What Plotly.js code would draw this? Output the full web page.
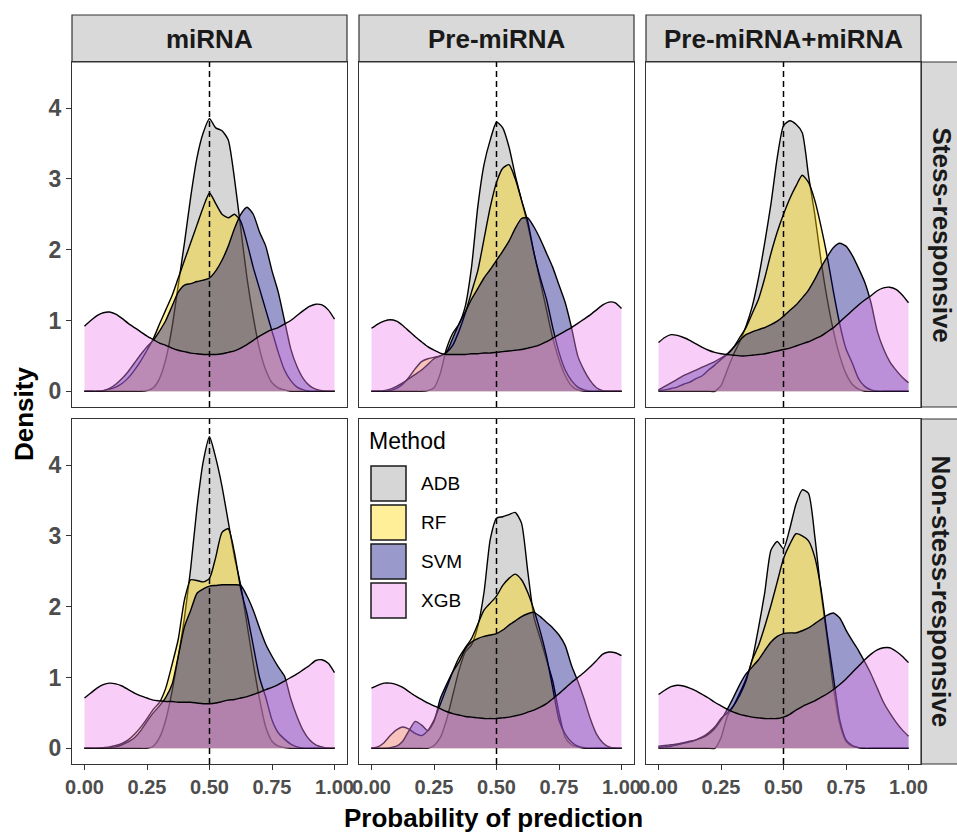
<!DOCTYPE html>
<html><head><meta charset="utf-8">
<script src="https://cdn.plot.ly/plotly-3.0.1.min.js"></script>
<style>html,body{margin:0;padding:0;background:#fff}</style>
</head><body><div id="chart" style="width:957px;height:835px"></div>
<script>
// ---------- data ----------
const probGrid = [0,0.025,0.05,0.075,0.1,0.125,0.15,0.175,0.2,0.225,0.25,0.275,0.3,0.325,0.35,0.375,0.4,0.425,0.45,0.475,0.5,0.525,0.55,0.575,0.6,0.625,0.65,0.675,0.7,0.725,0.75,0.775,0.8,0.825,0.85,0.875,0.9,0.925,0.95,0.975,1];
const methods = ['ADB','RF','SVM','XGB'];
const featureSets = ['miRNA','Pre-miRNA','Pre-miRNA+miRNA'];
const classes = ['Stess-responsive','Non-stess-responsive'];
const xTickVals = [0,0.25,0.5,0.75,1];
const xTickText = ['0.00','0.25','0.50','0.75','1.00'];
const yTickVals = [0,1,2,3,4];
const cutoff = 0.5;

// miRNA / Stess-responsive
const adb_miRNA_S = [0,0,0,0,0,0,0,0,0,0,0.01,0.05,0.18,0.45,0.9,1.5,2.1,2.75,3.3,3.65,3.85,3.72,3.68,3.55,3.0,2.3,1.6,1.05,0.6,0.3,0.12,0.05,0.02,0,0,0,0,0,0,0,0];
const rf_miRNA_S  = [0,0,0,0.01,0.03,0.06,0.11,0.19,0.3,0.43,0.58,0.74,0.95,1.15,1.35,1.6,1.85,2.1,2.35,2.6,2.8,2.65,2.5,2.45,2.5,2.4,2.1,1.75,1.45,1.15,0.85,0.55,0.3,0.15,0.06,0.02,0,0,0,0,0];
const svm_miRNA_S = [0,0,0,0.01,0.04,0.1,0.18,0.28,0.4,0.52,0.63,0.72,0.85,1.0,1.2,1.4,1.5,1.52,1.55,1.57,1.6,1.7,1.85,2.05,2.3,2.5,2.6,2.5,2.25,2.05,1.7,1.4,1.0,0.6,0.35,0.18,0.08,0.03,0.01,0,0];
const xgb_miRNA_S = [0.92,1.0,1.07,1.11,1.12,1.09,1.03,0.96,0.9,0.84,0.78,0.73,0.68,0.65,0.61,0.58,0.56,0.54,0.53,0.52,0.52,0.52,0.53,0.55,0.57,0.61,0.66,0.72,0.78,0.83,0.87,0.9,0.95,1.0,1.07,1.14,1.2,1.23,1.22,1.15,1.02];

// Pre-miRNA / Stess-responsive
const adb_pre_S = [0,0,0,0,0,0,0,0,0,0.01,0.05,0.25,0.6,0.82,0.95,1.2,1.75,2.6,3.2,3.55,3.8,3.72,3.45,3.05,2.7,2.35,1.95,1.55,1.15,0.75,0.45,0.22,0.08,0.02,0,0,0,0,0,0,0];
const rf_pre_S  = [0,0,0,0.01,0.04,0.1,0.2,0.32,0.42,0.46,0.48,0.5,0.55,0.65,0.85,1.1,1.4,1.7,2.15,2.6,2.95,3.15,3.2,3.0,2.7,2.4,1.95,1.6,1.3,0.9,0.55,0.3,0.15,0.06,0.02,0,0,0,0,0,0];
const svm_pre_S = [0,0,0.01,0.03,0.07,0.12,0.18,0.24,0.3,0.38,0.46,0.5,0.55,0.75,0.95,1.12,1.3,1.45,1.6,1.72,1.85,1.98,2.12,2.3,2.44,2.45,2.32,2.15,1.95,1.75,1.5,1.25,0.9,0.5,0.3,0.15,0.05,0.01,0,0,0];
const xgb_pre_S = [0.89,0.95,0.99,1.01,0.99,0.93,0.85,0.77,0.7,0.63,0.58,0.54,0.52,0.52,0.52,0.52,0.53,0.53,0.54,0.54,0.55,0.56,0.57,0.58,0.59,0.61,0.63,0.66,0.7,0.75,0.8,0.85,0.9,0.96,1.02,1.08,1.15,1.22,1.26,1.25,1.17];

// Pre-miRNA+miRNA / Stess-responsive
const adb_both_S = [0,0,0,0,0,0,0,0,0,0,0.08,0.3,0.52,0.7,0.92,1.2,1.6,2.1,2.65,3.3,3.75,3.82,3.77,3.65,3.05,2.5,1.85,1.3,0.85,0.5,0.25,0.1,0.03,0,0,0,0,0,0,0,0];
const rf_both_S  = [0.01,0.02,0.04,0.06,0.1,0.13,0.18,0.22,0.3,0.37,0.45,0.52,0.62,0.76,0.9,1.1,1.3,1.6,1.95,2.25,2.5,2.72,2.9,3.05,2.95,2.7,2.33,1.9,1.4,0.95,0.6,0.4,0.18,0.07,0.02,0,0,0,0,0,0];
const svm_both_S = [0.02,0.07,0.12,0.17,0.22,0.26,0.3,0.34,0.38,0.42,0.47,0.53,0.62,0.72,0.8,0.84,0.87,0.9,0.94,0.99,1.06,1.14,1.22,1.32,1.43,1.58,1.75,1.9,2.03,2.09,2.05,1.92,1.74,1.54,1.25,0.85,0.6,0.42,0.3,0.2,0.12];
const xgb_both_S = [0.69,0.76,0.8,0.79,0.76,0.72,0.67,0.62,0.58,0.55,0.53,0.52,0.51,0.5,0.5,0.51,0.52,0.53,0.55,0.57,0.59,0.61,0.64,0.67,0.7,0.74,0.78,0.84,0.9,0.98,1.06,1.14,1.22,1.29,1.35,1.42,1.46,1.47,1.44,1.36,1.25];

// miRNA / Non-stess-responsive
const adb_miRNA_N = [0,0,0,0,0,0,0,0,0,0,0,0.03,0.15,0.4,0.8,1.3,1.85,2.55,3.4,4.05,4.4,4.1,3.7,3.2,2.7,2.3,1.75,1.2,0.7,0.3,0.1,0.03,0.01,0,0,0,0,0,0,0,0];
const rf_miRNA_N  = [0,0,0,0.01,0.02,0.04,0.07,0.12,0.2,0.3,0.42,0.55,0.65,0.85,1.18,1.54,2.1,2.38,2.37,2.35,2.4,2.7,3.05,3.1,2.76,2.25,1.9,1.45,1.0,0.72,0.4,0.22,0.13,0.06,0.02,0,0,0,0,0,0];
const svm_miRNA_N = [0,0,0,0,0.01,0.02,0.05,0.09,0.15,0.25,0.38,0.5,0.6,0.72,0.9,1.3,1.72,1.95,2.19,2.25,2.29,2.3,2.31,2.31,2.31,2.3,2.15,1.95,1.7,1.47,1.3,1.15,1.02,0.7,0.45,0.25,0.12,0.05,0.02,0,0];
const xgb_miRNA_N = [0.71,0.78,0.85,0.9,0.92,0.91,0.88,0.83,0.78,0.74,0.71,0.68,0.67,0.66,0.66,0.65,0.65,0.65,0.64,0.63,0.63,0.64,0.66,0.68,0.69,0.71,0.73,0.76,0.79,0.83,0.86,0.9,0.95,1.0,1.05,1.11,1.17,1.24,1.25,1.2,1.07];

// Pre-miRNA / Non-stess-responsive
const adb_pre_N = [0,0,0,0,0,0,0,0,0,0,0.04,0.15,0.4,0.75,1.1,1.36,1.46,1.72,2.2,2.95,3.25,3.27,3.3,3.33,3.18,2.5,1.85,1.55,1.25,0.95,0.5,0.15,0.05,0.02,0,0,0,0,0,0,0];
const rf_pre_N  = [0,0.02,0.08,0.18,0.26,0.3,0.27,0.21,0.18,0.25,0.4,0.62,0.85,1.08,1.28,1.42,1.55,1.75,1.95,2.05,2.15,2.3,2.4,2.46,2.38,2.2,1.95,1.65,1.3,0.85,0.4,0.2,0.09,0.03,0.01,0,0,0,0,0,0];
const svm_pre_N = [0,0,0,0.01,0.03,0.1,0.25,0.38,0.33,0.25,0.38,0.7,0.9,1.08,1.22,1.4,1.5,1.55,1.58,1.6,1.62,1.67,1.74,1.8,1.86,1.9,1.92,1.86,1.78,1.7,1.6,1.45,1.17,0.95,0.7,0.42,0.2,0.08,0.02,0,0];
const xgb_pre_N = [0.85,0.89,0.92,0.92,0.9,0.86,0.8,0.74,0.69,0.64,0.6,0.56,0.52,0.49,0.47,0.45,0.44,0.43,0.42,0.42,0.42,0.43,0.44,0.46,0.48,0.51,0.54,0.58,0.63,0.7,0.77,0.85,0.93,1.0,1.07,1.15,1.24,1.33,1.36,1.35,1.31];

// Pre-miRNA+miRNA / Non-stess-responsive
const adb_both_N = [0,0,0,0,0,0,0,0,0,0,0.15,0.45,0.6,0.78,0.98,1.25,1.7,2.2,2.8,2.92,2.82,3.1,3.45,3.65,3.6,3.0,2.2,1.55,0.85,0.35,0.1,0.03,0.01,0,0,0,0,0,0,0,0];
const rf_both_N  = [0.01,0.02,0.03,0.05,0.07,0.09,0.12,0.16,0.22,0.3,0.42,0.5,0.6,0.75,0.95,1.25,1.45,1.72,2.02,2.35,2.68,2.88,3.03,3.0,2.93,2.7,2.25,1.6,1.0,0.4,0.12,0.04,0.01,0,0,0,0,0,0,0,0];
const svm_both_N = [0.03,0.04,0.05,0.06,0.08,0.1,0.12,0.15,0.2,0.28,0.4,0.55,0.72,0.9,1.05,1.15,1.25,1.38,1.5,1.58,1.62,1.63,1.63,1.66,1.7,1.76,1.82,1.88,1.91,1.84,1.67,1.52,1.38,1.22,1.05,0.85,0.65,0.5,0.37,0.26,0.17];
const xgb_both_N = [0.76,0.82,0.87,0.89,0.88,0.85,0.81,0.76,0.71,0.65,0.6,0.55,0.51,0.48,0.46,0.44,0.43,0.42,0.42,0.42,0.44,0.48,0.54,0.59,0.63,0.67,0.72,0.77,0.83,0.9,0.98,1.07,1.16,1.25,1.33,1.39,1.42,1.42,1.37,1.3,1.21];

// panels in reading order (row = class, column = feature set)
const panelSeries = [
  [adb_miRNA_S, rf_miRNA_S, svm_miRNA_S, xgb_miRNA_S],
  [adb_pre_S, rf_pre_S, svm_pre_S, xgb_pre_S],
  [adb_both_S, rf_both_S, svm_both_S, xgb_both_S],
  [adb_miRNA_N, rf_miRNA_N, svm_miRNA_N, xgb_miRNA_N],
  [adb_pre_N, rf_pre_N, svm_pre_N, xgb_pre_N],
  [adb_both_N, rf_both_N, svm_both_N, xgb_both_N]
];

// ---------- styling ----------
const fillColors = ['rgba(153,153,153,0.4)','rgba(255,215,0,0.4)','rgba(0,0,128,0.4)','rgba(238,130,238,0.4)'];
const W = 957, H = 835;
const colPx = [[72,347],[359,634],[646,921]];
const rowPx = [[62,407],[419,764]];
const px2x = p => p / W;
const py2y = p => 1 - p / H;
const FONT = 'Liberation Sans, Arial, Helvetica, sans-serif';

const traces = [];
const layout = {
  width: W, height: H,
  margin: {l:0, r:0, t:0, b:0},
  paper_bgcolor: '#ffffff', plot_bgcolor: '#ffffff',
  showlegend: false,
  shapes: [], annotations: []
};

for (let r = 0; r < 2; r++) {
  for (let c = 0; c < 3; c++) {
    const k = r * 3 + c;
    const id = k === 0 ? '' : String(k + 1);
    const xa = 'x' + id, ya = 'y' + id;
    panelSeries[k].forEach((vals, m) => {
      traces.push({
        type: 'scatter', mode: 'lines', x: probGrid, y: vals,
        xaxis: xa, yaxis: ya, name: methods[m],
        fill: 'tozeroy', fillcolor: fillColors[m],
        line: {color: '#000000', width: 1.4, shape: 'spline', smoothing: 0.6},
        hoverinfo: 'x+y+name', showlegend: false
      });
    });
    layout['xaxis' + id] = {
      domain: [px2x(colPx[c][0]), px2x(colPx[c][1])], anchor: ya,
      range: [-0.05, 1.05], tickvals: xTickVals, ticktext: xTickText,
      showticklabels: r === 1, ticks: r === 1 ? 'outside' : '', ticklen: 5, tickwidth: 1, tickcolor: '#333333',
      tickfont: {family: FONT, size: 20, color: '#4d4d4d', weight: 700},
      showline: true, mirror: true, linecolor: '#333333', linewidth: 1.2,
      showgrid: false, zeroline: false, fixedrange: true
    };
    layout['yaxis' + id] = {
      domain: [py2y(rowPx[r][1]), py2y(rowPx[r][0])], anchor: xa,
      range: [-0.2215, 4.65], tickvals: yTickVals,
      showticklabels: c === 0, ticks: c === 0 ? 'outside' : '', ticklen: 5, tickwidth: 1, tickcolor: '#333333',
      tickfont: {family: FONT, size: 23, color: '#4d4d4d', weight: 700},
      showline: true, mirror: true, linecolor: '#333333', linewidth: 1.2,
      showgrid: false, zeroline: false, fixedrange: true
    };
    // dashed cutoff line
    layout.shapes.push({
      type: 'line', xref: xa, yref: ya + ' domain', x0: cutoff, x1: cutoff, y0: 0, y1: 1,
      line: {color: '#000000', width: 1.5, dash: '6px,4px'}, layer: 'above'
    });
  }
}

// top strips
featureSets.forEach((name, c) => {
  layout.shapes.push({
    type: 'rect', xref: 'paper', yref: 'paper',
    x0: px2x(colPx[c][0]), x1: px2x(colPx[c][1]), y0: py2y(62), y1: py2y(15),
    fillcolor: '#d9d9d9', line: {color: '#333333', width: 1.2}, layer: 'below'
  });
  layout.annotations.push({
    xref: 'paper', yref: 'paper', x: px2x((colPx[c][0] + colPx[c][1]) / 2), y: py2y(39),
    text: name, showarrow: false, xanchor: 'center', yanchor: 'middle',
    font: {family: FONT, size: 26, color: '#1a1a1a', weight: 700}
  });
});
// right strips
classes.forEach((name, r) => {
  layout.shapes.push({
    type: 'rect', xref: 'paper', yref: 'paper',
    x0: px2x(921), x1: px2x(975), y0: py2y(rowPx[r][1]), y1: py2y(rowPx[r][0]),
    fillcolor: '#d9d9d9', line: {color: '#333333', width: 1.2}, layer: 'below'
  });
  layout.annotations.push({
    xref: 'paper', yref: 'paper', x: px2x(941), y: py2y((rowPx[r][0] + rowPx[r][1]) / 2),
    text: name, showarrow: false, textangle: 90, xanchor: 'center', yanchor: 'middle',
    font: {family: FONT, size: 26, color: '#1a1a1a', weight: 700}
  });
});

// axis titles
layout.annotations.push({
  xref: 'paper', yref: 'paper', x: px2x(494), y: py2y(818),
  text: 'Probability of prediction', showarrow: false, xanchor: 'center', yanchor: 'middle',
  font: {family: FONT, size: 26, color: '#000000', weight: 700}
});
layout.annotations.push({
  xref: 'paper', yref: 'paper', x: px2x(24), y: py2y(414),
  text: 'Density', showarrow: false, textangle: -90, xanchor: 'center', yanchor: 'middle',
  font: {family: FONT, size: 26, color: '#000000', weight: 700}
});

// legend (inside bottom-middle panel)
const legLeft = 371, legTop = 466, keySize = 35, keyStep = 39;
layout.annotations.push({
  xref: 'paper', yref: 'paper', x: px2x(367), y: py2y(441),
  text: 'Method', showarrow: false, xanchor: 'left', yanchor: 'middle',
  font: {family: FONT, size: 23, color: '#000000'}
});
methods.forEach((name, m) => {
  const top = legTop + m * keyStep;
  layout.shapes.push({
    type: 'rect', xref: 'paper', yref: 'paper',
    x0: px2x(legLeft), x1: px2x(legLeft + keySize), y0: py2y(top + keySize), y1: py2y(top),
    fillcolor: fillColors[m], line: {color: '#1a1a1a', width: 1.5}, layer: 'above'
  });
  layout.annotations.push({
    xref: 'paper', yref: 'paper', x: px2x(legLeft + keySize + 13), y: py2y(top + keySize / 2),
    text: name, showarrow: false, xanchor: 'left', yanchor: 'middle',
    font: {family: FONT, size: 19, color: '#000000'}
  });
});

Plotly.newPlot('chart', traces, layout, {displayModeBar: false, staticPlot: true});
</script>
</body></html>
